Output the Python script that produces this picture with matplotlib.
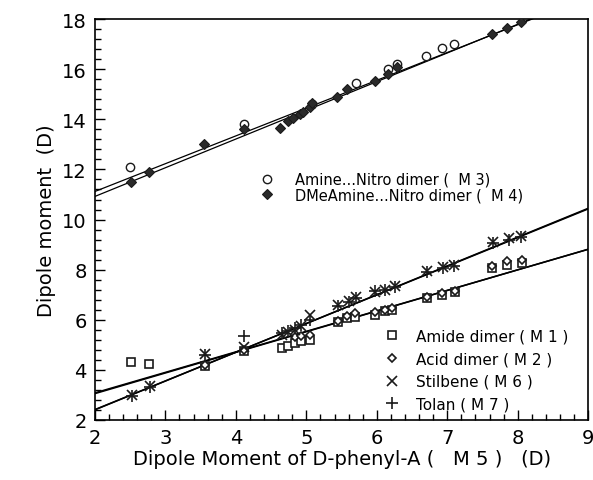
import numpy as np
import matplotlib
matplotlib.use("Agg")
import matplotlib.pyplot as plt
from matplotlib.ticker import MultipleLocator

# ---- data ----
m3_x = [2.50, 4.12, 5.08, 5.71, 6.16, 6.29, 6.70, 6.93, 7.09]
m3_y = [12.10, 13.83, 14.60, 15.45, 16.00, 16.20, 16.55, 16.85, 17.00]

m4_x = [2.51, 2.77, 3.55, 4.12, 4.63, 4.74, 4.81, 4.91, 4.95, 5.05, 5.08,
        5.44, 5.58, 5.98, 6.16, 6.29, 7.64, 7.85, 8.04]
m4_y = [11.48, 11.88, 13.00, 13.60, 13.67, 13.95, 14.05, 14.20, 14.30, 14.50, 14.65,
        14.90, 15.20, 15.55, 15.80, 16.10, 17.40, 17.65, 17.90]

m1_x = [2.51, 2.77, 3.56, 4.12, 4.65, 4.74, 4.84, 4.93, 5.05, 5.45, 5.58, 5.69,
        5.98, 6.12, 6.22, 6.71, 6.93, 7.11, 7.63, 7.85, 8.06]
m1_y = [4.31, 4.23, 4.15, 4.75, 4.88, 4.95, 5.05, 5.15, 5.20, 5.90, 6.05, 6.10,
        6.20, 6.35, 6.40, 6.85, 7.00, 7.10, 8.05, 8.20, 8.28]

m2_x = [3.56, 4.12, 4.84, 4.93, 5.05, 5.45, 5.58, 5.69, 5.98, 6.12, 6.22,
        6.71, 6.93, 7.11, 7.63, 7.85, 8.06]
m2_y = [4.20, 4.80, 5.30, 5.35, 5.40, 5.95, 6.15, 6.25, 6.30, 6.40, 6.45,
        6.90, 7.05, 7.15, 8.15, 8.35, 8.40]

m6_x = [2.52, 2.78, 3.56, 4.12, 4.65, 4.74, 4.84, 4.93, 5.05, 5.45, 5.60, 5.70,
        5.98, 6.12, 6.26, 6.71, 6.94, 7.09, 7.65, 7.87, 8.04]
m6_y = [2.98, 3.35, 4.65, 4.90, 5.40, 5.50, 5.60, 5.75, 6.20, 6.60, 6.75, 6.90,
        7.10, 7.20, 7.35, 7.95, 8.10, 8.20, 9.10, 9.25, 9.35]

m7_x = [2.52, 2.78, 3.56, 4.12, 4.65, 4.74, 4.84, 4.93, 5.05, 5.45, 5.60, 5.70,
        5.98, 6.12, 6.26, 6.71, 6.94, 7.09, 7.65, 7.87, 8.04]
m7_y = [2.95, 3.30, 4.60, 5.35, 5.45, 5.55, 5.65, 5.80, 6.00, 6.55, 6.70, 6.85,
        7.15, 7.20, 7.30, 7.90, 8.05, 8.15, 9.05, 9.20, 9.30]

# fitted lines: (slope, intercept)
fit_m3 = (1.11, 8.90)
fit_m4 = (1.146, 8.63)
fit_m1 = (0.819, 1.44)
fit_m2 = (0.824, 1.40)
fit_m6 = (1.15, 0.10)
fit_m7 = (1.145, 0.12)

labels_top = ["Amine...Nitro dimer (  M 3)", "DMeAmine...Nitro dimer (  M 4)"]
labels_bot = ["Amide dimer ( M 1 )", "Acid dimer ( M 2 )", "Stilbene ( M 6 )", "Tolan ( M 7 )"]

plt.rcParams['font.family'] = ['DejaVu Sans']
fig = plt.figure(figsize=(5.93, 4.81), dpi=100)
ax = fig.add_axes([0.160, 0.125, 0.832, 0.833])

xs = np.array([2.0, 9.0])
for (s, b), lw in [(fit_m3, 0.9), (fit_m4, 0.9), (fit_m1, 1.1), (fit_m2, 1.1), (fit_m6, 1.1), (fit_m7, 1.1)]:
    ax.plot(xs, s * xs + b, color='black', lw=lw, zorder=2)

mc = '#1a1a1a'
h3, = ax.plot(m3_x, m3_y, 'o', ms=6, mfc='white', mec=mc, mew=1.0, ls='none', zorder=3)
h4, = ax.plot(m4_x, m4_y, 'D', ms=5.5, mfc='#2a2a2a', mec=mc, mew=0.8, ls='none', zorder=3)
h1, = ax.plot(m1_x, m1_y, 's', ms=6, mfc='white', mec=mc, mew=1.2, ls='none', zorder=3)
h2, = ax.plot(m2_x, m2_y, 'D', ms=4.5, mfc='white', mec=mc, mew=1.2, ls='none', zorder=3)
h6, = ax.plot(m6_x, m6_y, 'x', ms=7, mec=mc, mew=1.2, ls='none', zorder=3)
h7, = ax.plot(m7_x, m7_y, '+', ms=9, mec=mc, mew=1.2, ls='none', zorder=3)

ax.set_xlim(2, 9)
ax.set_ylim(2, 18)
ax.xaxis.set_major_locator(MultipleLocator(1))
ax.xaxis.set_minor_locator(MultipleLocator(0.2))
ax.yaxis.set_major_locator(MultipleLocator(2))
ax.yaxis.set_minor_locator(MultipleLocator(0.4))
ax.tick_params(which='both', direction='in', top=False, right=False, labelsize=14, width=1.0)
ax.tick_params(which='major', length=7, pad=6)
ax.tick_params(which='minor', length=4)
for sp in ax.spines.values():
    sp.set_linewidth(1.2)

ax.set_xlabel("Dipole Moment of D-phenyl-A (   M 5 )   (D)", fontsize=14, labelpad=1)
ax.set_ylabel("Dipole moment  (D)", fontsize=14, labelpad=4)

leg1 = ax.legend([h3, h4], labels_top, loc='upper left', bbox_to_anchor=(0.305, 0.652),
                 frameon=False, fontsize=10.5, handletextpad=1.3, labelspacing=0.05,
                 handlelength=1.2)
ax.add_artist(leg1)
ax.legend([h1, h2, h6, h7], labels_bot, loc='upper left', bbox_to_anchor=(0.555, 0.262),
          frameon=False, fontsize=11, handletextpad=1.0, labelspacing=0.5,
          handlelength=1.2)

fig.savefig("out.png", dpi=100)
